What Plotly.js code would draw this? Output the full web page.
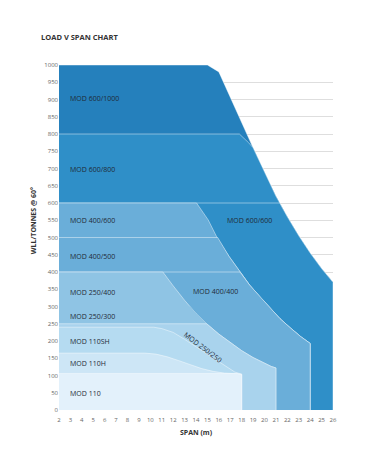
<!DOCTYPE html>
<html>
<head>
<meta charset="utf-8">
<script src="https://cdn.plot.ly/plotly-3.0.1.min.js"></script>
<style>html,body{margin:0;padding:0;background:#fff;}#chart{width:367px;height:459px;}</style>
</head>
<body>
<div id="chart"></div>
<script>
// Envelope (top boundary) of each capacity region: span (m) vs WLL (tonnes)
const names = ["MOD 600/1000","MOD 600/800","MOD 600/600","MOD 400/600","MOD 400/500","MOD 400/400","MOD 250/400","MOD 250/300","MOD 250/250","MOD 110SH","MOD 110H","MOD 110"];
const span600_1000 = [2,15,16,17,18,19,20,21,22,23,24,25,26,26];
const wll600_1000  = [1000,1000,980,905,830,760,690,620,560,505,455,410,370,0];
const span600_800  = [2,17.8,18.6,19,20,21,22,23,24,25,26,26];
const wll600_800   = [800,800,775,760,690,620,560,505,455,410,370,0];
const span600_600  = [2,21.33,22,23,24,25,26,26];
const wll600_600   = [600,600,560,505,455,410,370,0];
const span400_600  = [2,14.05,15.07,15.95,16.9,17.85,18.7,19.6,20.5,21.35,22.3,23.2,24,24];
const wll400_600   = [600,600,551,493,445,401,362,328,295,265,237,212,193,0];
const span400_500  = [2,15.9,16.9,17.85,18.7,19.6,20.5,21.35,22.3,23.2,24,24];
const wll400_500   = [500,500,445,401,362,328,295,265,237,212,193,0];
const span400_400  = [2,17.85,18.7,19.6,20.5,21.35,22.3,23.2,24,24];
const wll400_400   = [400,400,362,328,295,265,237,212,193,0];
const span250_400  = [2,11.1,12,13,14,15,16,17,18,19,20,20.6,21,21];
const wll250_400   = [400,400,360,318,280,248,220,195,172,152,135,126,122,0];
const span250_300  = [2,13.5,14,15,16,17,18,19,20,20.6,21,21];
const wll250_300   = [300,300,280,248,220,195,172,152,135,126,122,0];
const span250_250  = [2,14.94,16,17,18,19,20,20.6,21,21];
const wll250_250   = [250,250,220,195,172,152,135,126,122,0];
const span110SH    = [2,10.3,11,12,13,14,15,16,16.8,17.4,18,18];
const wll110SH     = [240,240,236,225,205,183,162,140,122,110,104,0];
const span110H     = [2,9.5,10.5,11.5,12.5,13.5,14.5,15.5,16.5,17.5,18,18];
const wll110H      = [165,165,162,154,143,131,120,112,107,105,104,0];
const span110      = [2,17.6,18,18];
const wll110       = [106,106,102,0];

const spans = [span600_1000,span600_800,span600_600,span400_600,span400_500,span400_400,span250_400,span250_300,span250_250,span110SH,span110H,span110];
const wlls  = [wll600_1000,wll600_800,wll600_600,wll400_600,wll400_500,wll400_400,wll250_400,wll250_300,wll250_250,wll110SH,wll110H,wll110];
const colors = ['#2580bc','#2f8fc8','#2f8fc8','#6aaed9','#6aaed9','#6aaed9','#8fc4e4','#8fc4e4','#a9d3ed','#b5dbf1','#cde6f6','#e3f1fb'];
const showEdge = [true,true,true,true,true,true,true,false,true,true,true,true];

// Label positions
const labelSpan = [2.8,2.8,16.5,2.8,2.8,13.6,2.8,2.8,14.6,2.8,2.8,2.8];
const labelWll  = [902,698,549,549,444,343,340,270,180,200,135,48];

const traces = names.map((n,i)=>({
  type:'scatter', mode:'lines', name:n, x:spans[i], y:wlls[i],
  fill:'tozeroy', fillcolor:colors[i],
  line:{color: showEdge[i] ? 'rgba(255,255,255,0.55)' : 'rgba(0,0,0,0)', width: showEdge[i]?0.8:0},
  hoverinfo:'skip', showlegend:false
}));

const annotations = names.map((n,i)=>{
  const a = {x:labelSpan[i], y:labelWll[i], xref:'x', yref:'y', text:n, showarrow:false,
    xanchor:'left', yanchor:'middle', font:{family:'Open Sans, sans-serif', size:7, color:'#1f2a36'}};
  if (n==="MOD 250/250") { a.xanchor='center'; a.textangle=37; }
  return a;
});
annotations.push({xref:'paper', yref:'paper', x:-0.095, y:0.55, text:'<b>WLL/TONNES @ 60°</b>', textangle:-90,
  showarrow:false, xanchor:'center', yanchor:'middle', font:{family:'Open Sans, sans-serif', size:7, color:'#333'}});

const layout = {
  width:367, height:459,
  margin:{l:59, r:34, t:65, b:49},
  paper_bgcolor:'#fff', plot_bgcolor:'#fff',
  title:{text:'<b>LOAD V SPAN CHART</b>', x:41/367, xanchor:'left', y:1-37/459, yanchor:'middle',
    font:{family:'Open Sans, sans-serif', size:7.5, color:'#333'}},
  xaxis:{range:[2,26], tickmode:'linear', tick0:2, dtick:1, showgrid:false, zeroline:false, showline:false,
    ticks:'outside', ticklen:4, tickcolor:'rgba(0,0,0,0)', tickfont:{family:'Open Sans, sans-serif', size:6, color:'#666'},
    title:{text:'<b>SPAN (m)</b>', standoff:6, font:{family:'Open Sans, sans-serif', size:7, color:'#333'}}},
  yaxis:{range:[0,1000], tickmode:'linear', tick0:0, dtick:50, showgrid:true, gridcolor:'#dedede', gridwidth:1,
    zeroline:false, showline:false, ticks:'', tickfont:{family:'Open Sans, sans-serif', size:6, color:'#666'}},
  annotations:annotations,
  showlegend:false
};

Plotly.newPlot('chart', traces, layout, {displayModeBar:false, staticPlot:true});
</script>
</body>
</html>
